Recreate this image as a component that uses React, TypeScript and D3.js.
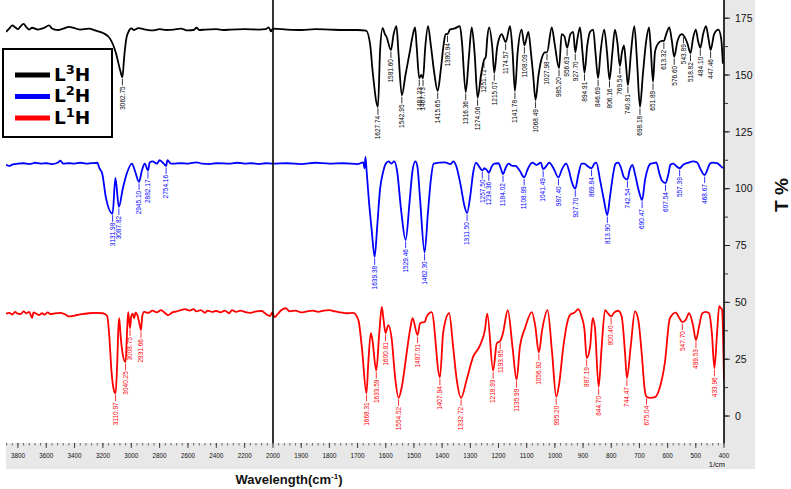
import React from "react";
import * as d3 from "d3";

// tick labels
const xTickLabels = [3800, 3600, 3400, 3200, 3000, 2800, 2600, 2400, 2200, 2000, 1900, 1800, 1700, 1600, 1500, 1400, 1300, 1200, 1100, 1000, 900, 800, 700, 600, 500, 400];
const yTickLabels = [0, 25, 50, 75, 100, 125, 150, 175];

const seriesSup = ["3", "2", "1"];
const seriesColors = ["#000000", "#0000ff", "#ff0000"];

// [wavenumber, T%]
const l3h: [number, number][] = [
  [3884, 169.0], [3860, 170.5], [3840, 171.8], [3820, 171.0], [3800, 170.2], [3780, 171.5], [3760, 172.5], [3740, 171.0],
  [3720, 170.0], [3700, 170.8], [3660, 170.0], [3620, 170.6], [3580, 171.8], [3560, 170.5], [3520, 169.8], [3480, 170.4],
  [3440, 171.2], [3400, 170.6], [3360, 170.0], [3300, 170.4], [3250, 169.5], [3200, 168.5], [3150, 166], [3110, 160],
  [3078, 152], [3062.75, 149], [3050, 158], [3035, 166], [3020, 169], [3000, 170.5], [2980, 169.8], [2950, 170.6],
  [2900, 170.0], [2850, 169.6], [2800, 170.2], [2750, 169.8], [2700, 170.0], [2650, 170.4], [2600, 169.6], [2560, 169.8],
  [2540, 170.8], [2520, 169.8], [2480, 170.0], [2400, 170.2], [2350, 169.8], [2300, 170.0], [2200, 170.2], [2100, 170.0],
  [2050, 170.2], [2030, 171.0], [2015, 169.2], [2000, 170.4], [1950, 170.0], [1900, 169.8], [1850, 170.2], [1800, 170.0],
  [1750, 169.8], [1700, 169.8], [1670, 169.5], [1656, 164], [1646, 151], [1627.74, 136], [1620, 161], [1611, 170.6],
  [1603, 168], [1597, 166.7], [1581.6, 161], [1572, 168], [1562, 171.5], [1555, 160], [1542.95, 141], [1530, 150],
  [1515, 160], [1505, 167], [1496, 171], [1490, 162], [1481.23, 148.6], [1474, 150], [1467.73, 148.6], [1460, 162],
  [1450, 171.5], [1440, 163], [1428, 151], [1415.65, 143], [1405, 152], [1395, 163], [1388, 168], [1380.94, 168],
  [1372, 170], [1355, 170.5], [1337, 171.5], [1330, 165], [1316.36, 142.5], [1305, 158], [1295, 171], [1285, 160],
  [1274.06, 140], [1262, 150], [1251.72, 156.5], [1245, 158], [1240, 166], [1233, 171], [1222, 162], [1215.07, 151],
  [1205, 162], [1195, 167], [1189, 168], [1174.57, 164.5], [1159, 171.5], [1150, 160], [1141.78, 143], [1132, 160],
  [1118, 170], [1108.09, 163], [1094, 169], [1085, 160], [1077, 150], [1068.49, 139], [1058, 150], [1045, 158],
  [1035, 160], [1027.98, 160], [1011, 171], [1000, 163], [985.2, 153], [976, 168], [966, 167], [956.63, 162],
  [945, 168], [935, 169], [927.7, 160], [920, 166], [911, 171], [902, 160], [894.91, 151], [885, 163], [875, 169],
  [864, 170], [856, 160], [846.69, 148.6], [838, 160], [825, 170], [815, 160], [806.16, 148], [796, 160], [787, 170],
  [778, 164], [769.54, 154], [762, 160], [755, 163], [748, 155], [740.81, 145.5], [730, 160], [718, 171.5], [708, 155],
  [698.18, 136], [688, 150], [676, 165], [666, 171], [660, 162], [651.89, 147], [645, 160], [633, 164], [620, 165],
  [613.32, 165], [605, 168], [594, 171], [585, 165], [576.6, 158], [565, 165], [550, 168], [543.89, 167.5], [530, 164],
  [518.82, 159.6], [510, 166], [500, 170], [492, 165], [484.1, 162], [474, 168], [464, 171.5], [455, 166], [447.46, 161],
  [435, 168], [420, 170], [410, 166], [404, 155],
];

const l2h: [number, number][] = [
  [3884, 110.5], [3860, 110.0], [3840, 110.6], [3800, 111.0], [3760, 111.2], [3720, 110.8], [3700, 111.0], [3680, 111.4],
  [3640, 111.0], [3600, 111.2], [3560, 110.8], [3520, 111.4], [3500, 112.3], [3480, 111.0], [3440, 111.2], [3400, 111.0],
  [3360, 111.4], [3320, 111.0], [3280, 111.2], [3240, 111.4], [3225, 109], [3205, 106.7], [3180, 96.4], [3131.98, 89],
  [3112, 104.7], [3087.82, 92], [3060, 100], [3030, 107], [2995, 111], [2975, 108], [2945.1, 103], [2925, 108],
  [2905, 111], [2882.17, 108], [2870, 111.5], [2850, 112], [2820, 111], [2800, 112.5], [2770, 111], [2754.16, 110],
  [2745, 112.5], [2720, 111], [2700, 111.0], [2650, 111.2], [2600, 111.0], [2540, 111.6], [2500, 111.0], [2450, 110.8],
  [2400, 111.2], [2300, 111.0], [2250, 111.4], [2200, 111.0], [2150, 111.2], [2100, 110.8], [2050, 111.2], [2000, 111.0],
  [1950, 111.2], [1900, 110.8], [1850, 111.4], [1800, 111.0], [1750, 111.2], [1700, 110.8], [1680, 111.6], [1675, 109],
  [1672, 114], [1668, 108], [1660, 95], [1650, 82], [1639.38, 70], [1630, 84], [1620, 100], [1610, 107], [1600, 111],
  [1590, 112], [1580, 111], [1570, 112], [1560, 108], [1545, 90], [1529.46, 77.4], [1515, 95], [1505, 108], [1495, 112],
  [1488, 110], [1478, 95], [1462.3, 72], [1450, 90], [1440, 104], [1430, 111], [1410, 111.5], [1390, 111.6], [1370, 110.8],
  [1360, 112], [1350, 110], [1335, 102], [1320, 92], [1311.5, 89.3], [1300, 97], [1290, 107], [1280, 111.5], [1270, 110],
  [1262, 108.5], [1257.5, 108], [1250, 109], [1240, 108], [1234.36, 107], [1225, 109.5], [1215, 111], [1200, 111.2],
  [1192, 109], [1184.02, 106.4], [1175, 109], [1165, 111], [1150, 110], [1140, 110], [1125, 108], [1108.99, 105],
  [1095, 109], [1080, 111.5], [1065, 110.5], [1050, 111.5], [1041.49, 108.6], [1030, 110], [1020, 111.5], [1005, 109],
  [987.4, 105], [975, 108.5], [960, 111], [950, 108], [940, 103], [927.7, 100], [917, 106], [905, 111], [895, 111],
  [885, 110], [869.84, 109], [860, 111], [853, 111.5], [840, 104], [826, 95], [813.9, 88.4], [805, 96], [795, 105],
  [785, 111], [775, 111.5], [765, 109], [755, 105], [742.54, 104], [735, 108], [725, 110.5], [715, 106], [700, 98],
  [690.47, 95], [680, 104], [670, 109], [660, 111], [650, 111.2], [640, 111.6], [630, 107], [620, 103.5], [607.54, 102.5],
  [598, 106], [590, 110.5], [580, 111], [570, 110], [557.39, 109], [545, 110.5], [525, 111.5], [510, 112], [495, 111.5],
  [485, 109], [468.67, 106], [460, 108], [450, 111], [440, 111.5], [425, 111.2], [412, 110], [404, 109],
];

const l1h: [number, number][] = [
  [3884, 45.0], [3860, 45.4], [3840, 44.6], [3820, 45.8], [3800, 45.0], [3780, 44.8], [3760, 46.0], [3740, 45.2],
  [3720, 45.8], [3700, 43.2], [3690, 45.6], [3670, 45.0], [3650, 44.4], [3630, 45.2], [3610, 44.6], [3590, 45.6],
  [3570, 44.8], [3540, 45.2], [3500, 45.4], [3470, 44.8], [3440, 43.8], [3400, 44.2], [3350, 44.8], [3300, 45.2],
  [3250, 45.4], [3200, 45.2], [3170, 44.0], [3155, 35], [3140, 20], [3125, 12], [3110.97, 10], [3100, 22], [3090, 40],
  [3085, 43], [3075, 35], [3060, 27], [3040.25, 23.7], [3030, 37], [3022, 45.7], [3015, 42], [3008.75, 38.7], [3000, 44],
  [2990, 45], [2980, 43], [2970, 45.5], [2955, 44], [2940, 40], [2931.66, 37.8], [2922, 44], [2910, 45.8], [2880, 45.4],
  [2850, 46.4], [2820, 45.6], [2790, 46.6], [2760, 45.2], [2740, 44.4], [2710, 45.6], [2680, 46.0], [2650, 46.6],
  [2620, 47.0], [2590, 46.4], [2560, 47.0], [2540, 46.0], [2510, 46.6], [2480, 45.4], [2460, 46.4], [2430, 45.8],
  [2400, 46.2], [2370, 45.6], [2340, 46.4], [2310, 45.2], [2290, 46.6], [2260, 45.8], [2230, 46.4], [2200, 45.8],
  [2160, 45.4], [2120, 46.0], [2080, 46.2], [2060, 45.4], [2040, 44.4], [2020, 44.0], [2005, 45.6], [1995, 43.5],
  [1985, 44.6], [1970, 46.6], [1955, 47.4], [1940, 46.0], [1920, 46.4], [1900, 45.6], [1880, 46.0], [1860, 46.4],
  [1840, 45.8], [1820, 46.4], [1800, 46.6], [1780, 46.0], [1760, 45.6], [1740, 45.2], [1715, 45.4], [1697, 42.2],
  [1685, 30.5], [1668.31, 10], [1662, 23.3], [1653, 36.5], [1648, 34], [1633.59, 20], [1623, 36.5], [1614, 48],
  [1609, 43.6], [1600.81, 36.5], [1591, 40], [1579, 34], [1567, 17.3], [1554.52, 8], [1543, 12.9], [1526, 27.6],
  [1514, 37.8], [1505, 43], [1487.01, 35.6], [1478, 40.8], [1461, 41.5], [1455, 43.7], [1437, 45.7], [1407.94, 17],
  [1396, 37], [1375, 45.2], [1361, 30.5], [1348, 15.8], [1332.72, 8], [1313, 16], [1290, 26], [1266, 31], [1248, 38],
  [1240, 45], [1218.93, 20], [1206, 32], [1193.85, 33], [1184, 36.5], [1167, 46.6], [1150, 30], [1135.99, 16],
  [1124, 30.5], [1106, 38.6], [1082, 45.7], [1070, 40], [1056.92, 28], [1045, 38], [1026, 46.6], [1010, 28],
  [995.2, 8.5], [985, 14], [970, 30.5], [958, 40], [946, 44.5], [930, 45.5], [917, 47], [905, 43.7], [895, 38],
  [887.19, 25.5], [875, 30.5], [866, 43], [858, 39], [844.7, 12.8], [834, 30.5], [822, 46.6], [811, 45], [800.4, 43.8],
  [790, 45.5], [775, 46.3], [763, 43.8], [751, 27.6], [744.47, 16.7], [731, 30.5], [716, 46], [704, 42.2], [692, 27.6],
  [681, 11.4], [675.04, 8.5], [660, 8], [645, 8.3], [627, 12.9], [610, 23.3], [592, 43], [571, 45.5], [558, 43],
  [547.7, 41.3], [535, 42.5], [524, 45.2], [510, 40], [499.53, 33.4], [489, 39], [477, 45.2], [465, 45.8], [453, 45.2],
  [443, 36.5], [433.96, 21], [424, 37.8], [417, 48.3], [412, 47.6], [407, 46.9], [400, 16],
];

// peak labels [text, T% at minimum]
const l3hPeaks: [string, number][] = [
  ["3062.75", 149], ["1627.74", 136], ["1581.60", 161], ["1542.95", 141], ["1481.23", 148.6], ["1467.73", 148.6],
  ["1415.65", 143], ["1380.94", 168], ["1316.36", 142.5], ["1274.06", 140], ["1251.72", 156.5], ["1215.07", 151],
  ["1174.57", 164.5], ["1141.78", 143], ["1108.09", 163], ["1068.49", 139], ["1027.98", 160], ["985.20", 153],
  ["956.63", 162], ["927.70", 160], ["894.91", 151], ["846.69", 148.6], ["806.16", 148], ["769.54", 154],
  ["740.81", 145.5], ["698.18", 136], ["651.89", 147], ["613.32", 165], ["576.60", 158], ["543.89", 167.5],
  ["518.82", 159.6], ["484.10", 162], ["447.46", 161],
];
const l2hPeaks: [string, number][] = [
  ["3131.98", 89], ["3087.82", 92], ["2945.10", 103], ["2882.17", 108], ["2754.16", 110], ["1639.38", 70],
  ["1529.46", 77.4], ["1462.30", 72], ["1311.50", 89.3], ["1257.50", 108], ["1234.36", 107], ["1184.02", 106.4],
  ["1108.99", 105], ["1041.49", 108.6], ["987.40", 105], ["927.70", 100], ["869.84", 109], ["813.90", 88.4],
  ["742.54", 104], ["690.47", 95], ["607.54", 102.5], ["557.39", 109], ["468.67", 106],
];
const l1hPeaks: [string, number][] = [
  ["3110.97", 10], ["3040.25", 23.7], ["3008.75", 38.7], ["2931.66", 37.8], ["1668.31", 10], ["1633.59", 20],
  ["1600.81", 36.5], ["1554.52", 8], ["1487.01", 35.6], ["1407.94", 17], ["1332.72", 8], ["1218.93", 20],
  ["1193.85", 33], ["1135.99", 16], ["1056.92", 28], ["995.20", 8.5], ["887.19", 25.5], ["844.70", 12.8],
  ["800.40", 43.8], ["744.47", 16.7], ["675.04", 8.5], ["547.70", 41.3], ["499.53", 33.4], ["433.96", 21],
];

const allSeries = [l3h, l2h, l1h];
const allPeaks = [l3hPeaks, l2hPeaks, l1hPeaks];

export default function App() {
  const width = 791;
  const height = 489;
  const plot = { left: 6, right: 724, top: 0, bottom: 443 };

  // IR style split axis: 2x expansion below 2000
  const x = d3.scaleLinear().domain([3884, 2000, 400]).range([plot.left, 273, plot.right]);
  const y = d3.scaleLinear().domain([-12, 183]).range([443.3, 0]);

  const line = d3
    .line<[number, number]>()
    .x((d) => x(d[0]))
    .y((d) => y(d[1]))
    .curve(d3.curveMonotoneX);

  const minorX = [...d3.range(3880, 2000, -40), ...d3.range(2000, 399, -20)];
  const minorY = d3.range(0, 181, 12.5);

  const font = "Arial, 'Liberation Sans', sans-serif";

  return (
    <div style={{ position: "absolute", left: 0, top: 0 }}>
      <svg width={width} height={height} style={{ display: "block", background: "#fff" }}>
        <defs>
          <clipPath id="plotClip">
            <rect x={plot.left} y={plot.top} width={plot.right - plot.left} height={plot.bottom - plot.top} />
          </clipPath>
        </defs>

        {/* gray axis bands */}
        <rect x={plot.right} y={0} width={31} height={469} fill="#e8e8e8" />
        <rect x={plot.left} y={plot.bottom} width={755 - plot.left} height={26} fill="#e8e8e8" />

        {/* traces */}
        <g clipPath="url(#plotClip)">
          {allSeries.map((s, i) => (
            <path key={i} d={line(s) || ""} fill="none" stroke={seriesColors[i]} strokeWidth={1.8} strokeLinejoin="round" />
          ))}
          {allPeaks.map((peaks, i) =>
            peaks.map(([label, t], j) => {
              const px = x(parseFloat(label));
              const py = y(t);
              return (
                <g key={`${i}-${j}`}>
                  <line x1={px} x2={px} y1={py + 1.5} y2={py + 8} stroke={seriesColors[i]} strokeWidth={0.8} />
                  <text
                    transform={`translate(${px},${py + 9}) rotate(-90)`}
                    textAnchor="end"
                    dy="0.35em"
                    fontSize={6.5}
                    fontFamily={font}
                    fill={seriesColors[i]}
                  >
                    {label}
                  </text>
                </g>
              );
            })
          )}
        </g>

        {/* 2000 divider */}
        <line x1={x(2000)} x2={x(2000)} y1={0} y2={plot.bottom} stroke="#000" strokeWidth={1.6} />

        {/* bottom axis */}
        <g>
          {minorX.map((v) => (
            <line key={`mx${v}`} x1={x(v)} x2={x(v)} y1={plot.bottom} y2={plot.bottom + 2.5} stroke="#444" strokeWidth={0.8} />
          ))}
          {xTickLabels.map((v) => (
            <g key={`x${v}`}>
              <line x1={x(v)} x2={x(v)} y1={plot.bottom} y2={plot.bottom + 5} stroke="#333" strokeWidth={0.9} />
              <text
                x={x(v)}
                y={458}
                textAnchor="middle"
                fontSize={8}
                fontFamily={font}
                fill="#111"
                textLength={String(v).length * 3.5}
                lengthAdjust="spacingAndGlyphs"
              >
                {v}
              </text>
            </g>
          ))}
          <text x={717} y={467} textAnchor="middle" fontSize={7.5} fontFamily={font} fill="#111">
            1/cm
          </text>
        </g>

        {/* right axis */}
        <g>
          <line x1={plot.right} x2={plot.right} y1={0} y2={plot.bottom} stroke="#000" strokeWidth={1.6} />
          {minorY.map((v) => (
            <line key={`my${v}`} x1={plot.right} x2={plot.right + 4} y1={y(v)} y2={y(v)} stroke="#222" strokeWidth={0.9} />
          ))}
          {yTickLabels.map((v) => (
            <g key={`y${v}`}>
              <line x1={plot.right} x2={plot.right + 6} y1={y(v)} y2={y(v)} stroke="#222" strokeWidth={1} />
              <text x={735} y={y(v)} dy="0.35em" fontSize={10.5} fontFamily={font} fill="#111">
                {v}
              </text>
            </g>
          ))}
        </g>

        {/* axis titles */}
        <text x={289} y={484} textAnchor="middle" fontSize={13} fontWeight="bold" fontFamily={font} fill="#111">
          Wavelength(cm<tspan dy={-5} fontSize={8}>-1</tspan>
          <tspan dy={5}>)</tspan>
        </text>
        <text transform="translate(788,195) rotate(-90)" textAnchor="middle" fontSize={19} fontWeight="bold" fontFamily={font} fill="#111">
          T %
        </text>

        {/* legend */}
        <g>
          <rect x={3} y={49} width={109} height={88} fill="#fff" stroke="#000" strokeWidth={2} />
          {seriesSup.map((sup, i) => {
            const ly = 75 + i * 21.5;
            return (
              <g key={`lg${i}`}>
                <line x1={15} x2={50} y1={ly} y2={ly} stroke={seriesColors[i]} strokeWidth={5} />
                <text x={54} y={ly + 5.5} fontSize={18.5} fontWeight="bold" fontFamily="'DejaVu Sans', Verdana, sans-serif" fill="#000">
                  L<tspan dy={-7} fontSize={13}>{sup}</tspan>
                  <tspan dy={7}>H</tspan>
                </text>
              </g>
            );
          })}
        </g>
      </svg>
    </div>
  );
}
